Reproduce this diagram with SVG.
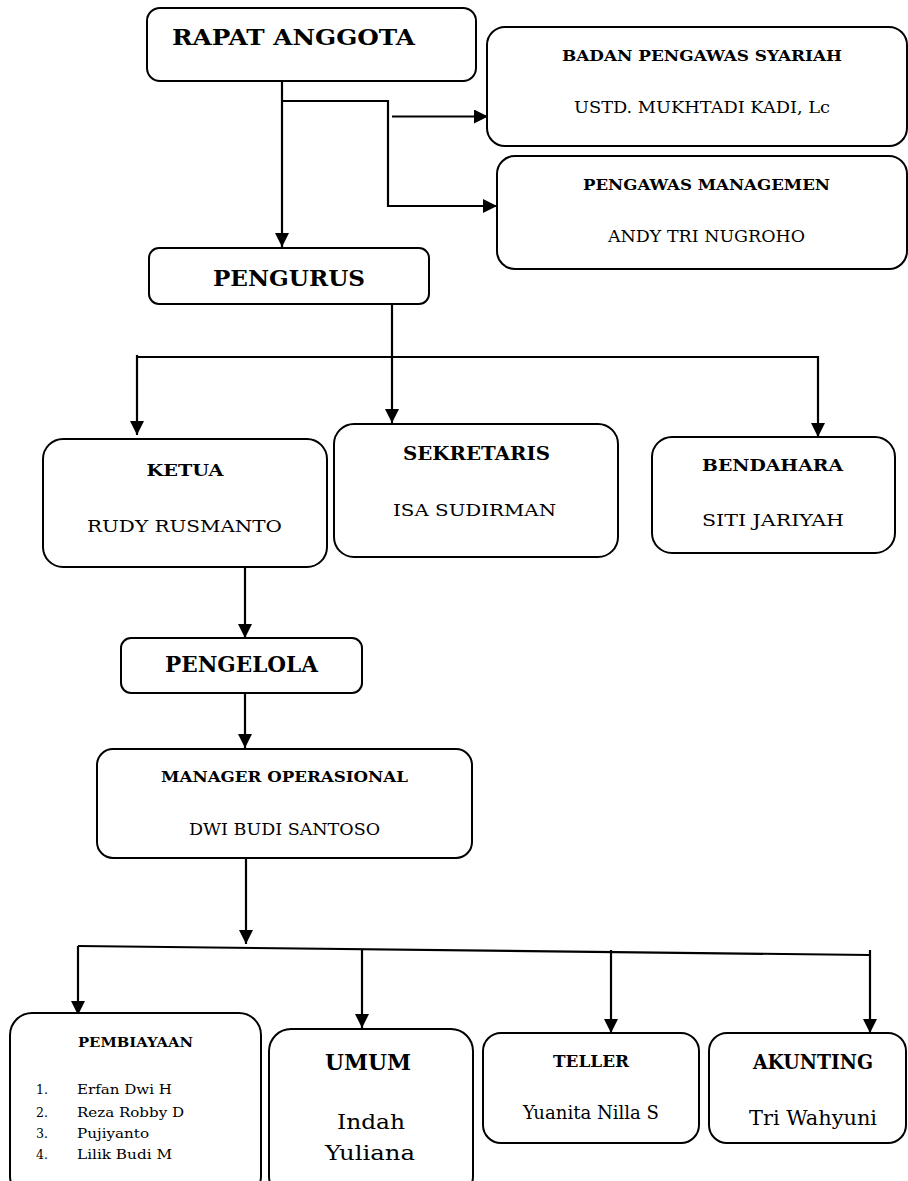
<svg xmlns="http://www.w3.org/2000/svg" width="908" height="1181" viewBox="0 0 908 1181">
<defs>
<marker id="arr" markerUnits="userSpaceOnUse" markerWidth="14" markerHeight="14" refX="14" refY="7" orient="auto">
<path d="M0,0 L14,7 L0,14 z" fill="#000"/>
</marker>
<style>
.box{fill:#fff;stroke:#000;stroke-width:2}
.ln{fill:none;stroke:#000;stroke-width:2.2}
text{font-family:"DejaVu Serif","Liberation Serif",serif;fill:#000}
.b{font-weight:bold}
.m{text-anchor:middle}
</style>
</defs>
<rect width="908" height="1181" fill="#fff"/>
<g id="connectors">
<path class="ln" d="M282,81 V247" marker-end="url(#arr)"/>
<path class="ln" d="M282,101 H388 V206 H497" marker-end="url(#arr)"/>
<path class="ln" d="M392,116.5 H488" marker-end="url(#arr)"/>
<path class="ln" d="M392,304 V423" marker-end="url(#arr)"/>
<path class="ln" d="M137,355 V435" marker-end="url(#arr)"/>
<path class="ln" d="M137,357 H818 V437" marker-end="url(#arr)"/>
<path class="ln" d="M245,567 V638" marker-end="url(#arr)"/>
<path class="ln" d="M245,693 V748" marker-end="url(#arr)"/>
<path class="ln" d="M246,858 V944" marker-end="url(#arr)"/>
<path class="ln" d="M78,946 L870,955"/>
<path class="ln" d="M78,946 V1015" marker-end="url(#arr)"/>
<path class="ln" d="M362,949 V1028" marker-end="url(#arr)"/>
<path class="ln" d="M611,950 V1033" marker-end="url(#arr)"/>
<path class="ln" d="M870,950 V1033" marker-end="url(#arr)"/>
</g>
<g id="rapat-anggota">
<rect class="box" x="147" y="8" width="329" height="73" rx="13"/>
<text class="b" x="172" y="45" font-size="22" textLength="243" lengthAdjust="spacingAndGlyphs">RAPAT ANGGOTA</text>
</g>
<g id="badan-pengawas-syariah">
<rect class="box" x="487" y="27" width="420" height="119" rx="18"/>
<text class="b m" x="702" y="61" font-size="15" textLength="280" lengthAdjust="spacingAndGlyphs">BADAN PENGAWAS SYARIAH</text>
<text class="m" x="702" y="113" font-size="17" textLength="256" lengthAdjust="spacingAndGlyphs">USTD. MUKHTADI KADI, Lc</text>
</g>
<g id="pengawas-managemen">
<rect class="box" x="497" y="156" width="410" height="113" rx="18"/>
<text class="b m" x="706.5" y="190" font-size="15" textLength="247" lengthAdjust="spacingAndGlyphs">PENGAWAS MANAGEMEN</text>
<text class="m" x="706.5" y="242" font-size="16" textLength="197" lengthAdjust="spacingAndGlyphs">ANDY TRI NUGROHO</text>
</g>
<g id="pengurus">
<rect class="box" x="149" y="248" width="280" height="56" rx="10"/>
<text class="b m" x="289" y="286" font-size="23" textLength="152" lengthAdjust="spacingAndGlyphs">PENGURUS</text>
</g>
<g id="ketua">
<rect class="box" x="43" y="439" width="284" height="128" rx="20"/>
<text class="b m" x="185" y="476" font-size="17" textLength="77" lengthAdjust="spacingAndGlyphs">KETUA</text>
<text class="m" x="184.5" y="532" font-size="17" textLength="195" lengthAdjust="spacingAndGlyphs">RUDY RUSMANTO</text>
</g>
<g id="sekretaris">
<rect class="box" x="334" y="424" width="284" height="133" rx="20"/>
<text class="b m" x="476.5" y="460" font-size="18" textLength="147" lengthAdjust="spacingAndGlyphs">SEKRETARIS</text>
<text class="m" x="474.5" y="516" font-size="17" textLength="163" lengthAdjust="spacingAndGlyphs">ISA SUDIRMAN</text>
</g>
<g id="bendahara">
<rect class="box" x="652" y="437" width="243" height="116" rx="20"/>
<text class="b m" x="772.5" y="471" font-size="17" textLength="141" lengthAdjust="spacingAndGlyphs">BENDAHARA</text>
<text class="m" x="773" y="526" font-size="17" textLength="142" lengthAdjust="spacingAndGlyphs">SITI JARIYAH</text>
</g>
<g id="pengelola">
<rect class="box" x="121" y="638" width="241" height="55" rx="10"/>
<text class="b m" x="241.5" y="672" font-size="22" textLength="153" lengthAdjust="spacingAndGlyphs">PENGELOLA</text>
</g>
<g id="manager-operasional">
<rect class="box" x="97" y="749" width="375" height="109" rx="16"/>
<text class="b m" x="284.5" y="782" font-size="15" textLength="247" lengthAdjust="spacingAndGlyphs">MANAGER OPERASIONAL</text>
<text class="m" x="284.5" y="835" font-size="16" textLength="191" lengthAdjust="spacingAndGlyphs">DWI BUDI SANTOSO</text>
</g>
<g id="pembiayaan">
<rect class="box" x="10" y="1013" width="251" height="185" rx="22"/>
<text class="b m" x="135.5" y="1047" font-size="13" textLength="115" lengthAdjust="spacingAndGlyphs">PEMBIAYAAN</text>
<text x="36" y="1094" font-size="13" textLength="12" lengthAdjust="spacingAndGlyphs">1.</text>
<text x="77" y="1094" font-size="13" textLength="95" lengthAdjust="spacingAndGlyphs">Erfan Dwi H</text>
<text x="36" y="1117" font-size="13" textLength="12" lengthAdjust="spacingAndGlyphs">2.</text>
<text x="77" y="1117" font-size="13" textLength="107" lengthAdjust="spacingAndGlyphs">Reza Robby D</text>
<text x="36" y="1138" font-size="13" textLength="12" lengthAdjust="spacingAndGlyphs">3.</text>
<text x="77" y="1138" font-size="13" textLength="72" lengthAdjust="spacingAndGlyphs">Pujiyanto</text>
<text x="36" y="1159" font-size="13" textLength="12" lengthAdjust="spacingAndGlyphs">4.</text>
<text x="77" y="1159" font-size="13" textLength="95" lengthAdjust="spacingAndGlyphs">Lilik Budi M</text>
</g>
<g id="umum">
<rect class="box" x="269" y="1029" width="204" height="169" rx="22"/>
<text class="b m" x="368" y="1070" font-size="22" textLength="86" lengthAdjust="spacingAndGlyphs">UMUM</text>
<text class="m" x="371" y="1129" font-size="21" textLength="68" lengthAdjust="spacingAndGlyphs">Indah</text>
<text class="m" x="370" y="1160" font-size="21" textLength="90" lengthAdjust="spacingAndGlyphs">Yuliana</text>
</g>
<g id="teller">
<rect class="box" x="483" y="1033" width="216" height="110" rx="18"/>
<text class="b m" x="591" y="1067" font-size="16" textLength="76" lengthAdjust="spacingAndGlyphs">TELLER</text>
<text class="m" x="591" y="1119" font-size="18" textLength="136" lengthAdjust="spacingAndGlyphs">Yuanita Nilla S</text>
</g>
<g id="akunting">
<rect class="box" x="709" y="1033" width="197" height="110" rx="18"/>
<text class="b m" x="813" y="1069" font-size="20" textLength="120" lengthAdjust="spacingAndGlyphs">AKUNTING</text>
<text class="m" x="813" y="1125" font-size="20" textLength="128" lengthAdjust="spacingAndGlyphs">Tri Wahyuni</text>
</g>
</svg>
